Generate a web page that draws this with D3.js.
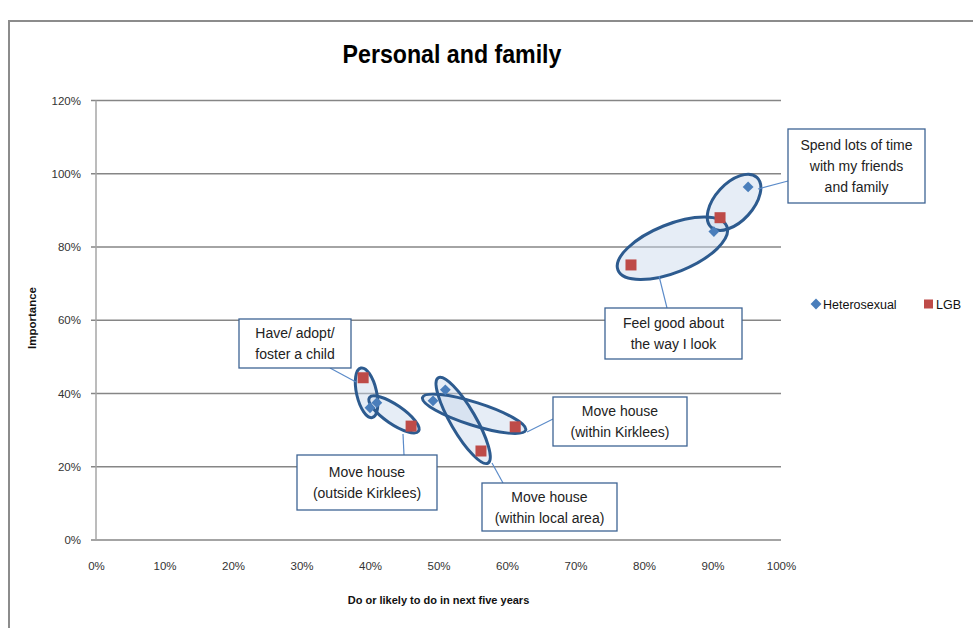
<!DOCTYPE html>
<html>
<head>
<meta charset="utf-8">
<script src="https://cdn.jsdelivr.net/npm/d3@7"></script>
<style>
  html, body { margin: 0; padding: 0; background: #fff; }
  svg { display: block; }
</style>
</head>
<body>
<svg id="chart" width="973" height="628"></svg>
<script>
// ---------------- data ----------------
const categories = [
  "Spend lots of time with my friends and family",
  "Feel good about the way I look",
  "Have/ adopt/ foster a child",
  "Move house (outside Kirklees)",
  "Move house (within Kirklees)",
  "Move house (within local area)"
];
const heteroX = [95.2, 90.2, 40.0, 41.0, 49.2, 51.0];
const heteroY = [96.4, 84.2, 36.1, 37.5, 38.0, 41.0];
const lgbX    = [91.1, 78.1, 39.0, 46.0, 61.2, 56.2];
const lgbY    = [88.0, 75.1, 44.3, 31.1, 30.9, 24.3];
const seriesNames = ["Heterosexual", "LGB"];
const xTicks = [0, 10, 20, 30, 40, 50, 60, 70, 80, 90, 100];
const yTicks = [0, 20, 40, 60, 80, 100, 120];
const titleText = "Personal and family";
const xTitle = "Do or likely to do in next five years";
const yTitle = "Importance";

// ---------------- layout / style ----------------
const W = 973, H = 628;
const plot = { left: 96, right: 781, top: 100.5, bottom: 540 };
const blue = "#4a7ebb", red = "#be4b48";
const ringStroke = "#2d5b8f";
const fontMain = "'Liberation Sans', Arial, sans-serif";

// ring shape per category: extra length beyond points, half-width
const ringPad = [13, 14, 10, 9, 11, 14];
const ringRy  = [19, 24, 10, 9.5, 11.5, 12.5];

// callout boxes (annotation placement)
const callouts = [
  { box: [788, 129, 137, 74], lines: ["Spend lots of time", "with my friends", "and family"], leader: [788, 181, 758, 189] },
  { box: [605, 308, 137, 51], lines: ["Feel good about", "the way I look"], leader: [667, 308, 659, 276] },
  { box: [239, 319, 112, 49], lines: ["Have/ adopt/", "foster a child"], leader: [330, 368, 356, 382] },
  { box: [297, 455, 140, 55], lines: ["Move house", "(outside Kirklees)"], leader: [404, 455, 403, 434] },
  { box: [553, 397, 134, 49], lines: ["Move house", "(within Kirklees)"], leader: [553, 419, 527, 432] },
  { box: [482, 483, 135, 48], lines: ["Move house", "(within local area)"], leader: [503, 483, 492, 463] }
];

const svg = d3.select("#chart");

// chart border
svg.append("rect")
  .attr("x", 9).attr("y", 21).attr("width", W + 20).attr("height", H + 20)
  .attr("fill", "#fff").attr("stroke", "#8c8c8c").attr("stroke-width", 2);

const x = d3.scaleLinear().domain([0, 100]).range([plot.left, plot.right]);
const y = d3.scaleLinear().domain([0, 120]).range([plot.bottom, plot.top]);

// gridlines
svg.append("g").selectAll("line").data(yTicks).join("line")
  .attr("x1", plot.left - 5).attr("x2", plot.right)
  .attr("y1", d => y(d)).attr("y2", d => y(d))
  .attr("stroke", "#868686").attr("stroke-width", 1.5);

// y axis line
svg.append("line")
  .attr("x1", plot.left).attr("x2", plot.left)
  .attr("y1", plot.top).attr("y2", plot.bottom)
  .attr("stroke", "#a6a6a6").attr("stroke-width", 1.5);

// y axis
const yAxis = d3.axisLeft(y).tickValues(yTicks).tickFormat(d => d + "%").tickSize(0).tickPadding(15);
const gy = svg.append("g").attr("transform", `translate(${plot.left},0)`).call(yAxis);
gy.select(".domain").remove();
gy.selectAll("text").attr("font-family", fontMain).attr("font-size", 11.5).attr("fill", "#333");

// x axis
const xAxis = d3.axisBottom(x).tickValues(xTicks).tickFormat(d => d + "%").tickSize(0).tickPadding(22);
const gx = svg.append("g").attr("transform", `translate(0,${plot.bottom})`).call(xAxis);
gx.select(".domain").remove();
gx.selectAll("text").attr("font-family", fontMain).attr("font-size", 11.5).attr("fill", "#333");

// axis titles
svg.append("text")
  .attr("x", (plot.left + plot.right) / 2).attr("y", 604)
  .attr("text-anchor", "middle")
  .attr("font-family", fontMain).attr("font-weight", "bold").attr("font-size", 11)
  .attr("fill", "#111").text(xTitle);

svg.append("text")
  .attr("transform", "translate(36,318) rotate(-90)")
  .attr("text-anchor", "middle")
  .attr("font-family", fontMain).attr("font-weight", "bold").attr("font-size", 11.5)
  .attr("fill", "#111").text(yTitle);

// title (condensed to match reference width)
const titleG = svg.append("g").attr("transform", "translate(452,63)");
const title = titleG.append("text")
  .attr("x", 0).attr("y", 0)
  .attr("text-anchor", "middle")
  .attr("font-family", fontMain).attr("font-weight", "bold").attr("font-size", 25)
  .attr("fill", "#000").text(titleText);
{
  const w = title.node().getComputedTextLength();
  if (w > 0) title.attr("transform", `scale(${219 / w},1)`);
}

// rings (ellipses) around each pair
const rows = categories.map((c, i) => ({
  cat: c, i,
  hx: x(heteroX[i]), hy: y(heteroY[i]),
  lx: x(lgbX[i]), ly: y(lgbY[i])
}));

function ringAttrs(sel, r) {
  const cx = (r.hx + r.lx) / 2, cy = (r.hy + r.ly) / 2;
  const dx = r.lx - r.hx, dy = r.ly - r.hy;
  const ang = Math.atan2(dy, dx) * 180 / Math.PI;
  const rx = Math.hypot(dx, dy) / 2 + ringPad[r.i];
  sel.attr("cx", 0).attr("cy", 0).attr("rx", rx).attr("ry", ringRy[r.i])
    .attr("transform", `translate(${cx},${cy}) rotate(${ang})`);
}

const ringG = svg.append("g");
rows.forEach(r => ringG.append("ellipse").call(ringAttrs, r).attr("fill", "rgba(200,214,234,0.45)"));
rows.forEach(r => ringG.append("ellipse").call(ringAttrs, r)
  .attr("fill", "none").attr("stroke", ringStroke).attr("stroke-width", 3));

// points
const diamond = d3.symbol().type(d3.symbolDiamond2).size(75);
svg.append("g").selectAll("path").data(rows).join("path")
  .attr("d", diamond)
  .attr("transform", d => `translate(${d.hx},${d.hy})`)
  .attr("fill", blue);
svg.append("g").selectAll("rect").data(rows).join("rect")
  .attr("x", d => d.lx - 5.5).attr("y", d => d.ly - 5.5)
  .attr("width", 11).attr("height", 11)
  .attr("fill", red);

// callouts
const cg = svg.append("g");
callouts.forEach(c => {
  const [bx, by, bw, bh] = c.box;
  cg.append("line")
    .attr("x1", c.leader[0]).attr("y1", c.leader[1])
    .attr("x2", c.leader[2]).attr("y2", c.leader[3])
    .attr("stroke", "#5b8bc9").attr("stroke-width", 1.2);
  cg.append("rect")
    .attr("x", bx).attr("y", by).attr("width", bw).attr("height", bh)
    .attr("fill", "#fff").attr("stroke", "#3e6494").attr("stroke-width", 1.3);
  const lh = 21;
  const n = c.lines.length;
  const y0 = by + bh / 2 - (n - 1) * lh / 2 + 5;
  c.lines.forEach((t, k) => {
    cg.append("text")
      .attr("x", bx + bw / 2).attr("y", y0 + k * lh)
      .attr("text-anchor", "middle")
      .attr("font-family", fontMain).attr("font-size", 14)
      .attr("fill", "#222").text(t);
  });
});

// legend
const lg = svg.append("g");
lg.append("path").attr("d", diamond).attr("transform", "translate(816,304)").attr("fill", blue);
lg.append("text").attr("x", 823).attr("y", 308.5)
  .attr("font-family", fontMain).attr("font-size", 12.5).attr("fill", "#111").text(seriesNames[0]);
lg.append("rect").attr("x", 924).attr("y", 299.5).attr("width", 9).attr("height", 9).attr("fill", red);
lg.append("text").attr("x", 936).attr("y", 308.5)
  .attr("font-family", fontMain).attr("font-size", 12.5).attr("fill", "#111").text(seriesNames[1]);
</script>
</body>
</html>
